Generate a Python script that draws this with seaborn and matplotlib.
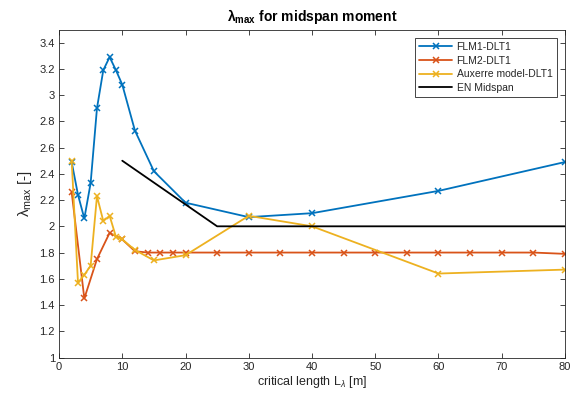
import matplotlib
matplotlib.use("Agg")
import matplotlib.pyplot as plt
import numpy as np
import pandas as pd
import seaborn as sns
from matplotlib.ticker import FuncFormatter, MultipleLocator

# Critical length L_lambda [m] and lambda_max for each model
L_flm1 = [2, 3, 4, 5, 6, 7, 8, 9, 10, 12, 15, 20, 30, 40, 60, 80]
lam_flm1 = [2.49, 2.24, 2.06, 2.33, 2.90, 3.19, 3.29, 3.19, 3.08, 2.73,
            2.42, 2.18, 2.07, 2.10, 2.27, 2.49]

L_flm2 = [2, 4, 6, 8, 10, 12, 14, 16, 18, 20, 25, 30, 35, 40, 45, 50,
          55, 60, 65, 70, 75, 80]
lam_flm2 = [2.26, 1.45, 1.75, 1.95, 1.90, 1.81, 1.80, 1.80, 1.80, 1.80,
            1.80, 1.80, 1.80, 1.80, 1.80, 1.80, 1.80, 1.80, 1.80, 1.80,
            1.80, 1.79]

L_aux = [2, 3, 4, 5, 6, 7, 8, 9, 10, 12, 15, 20, 30, 40, 60, 80]
lam_aux = [2.50, 1.57, 1.63, 1.70, 2.23, 2.04, 2.08, 1.92, 1.90, 1.82,
           1.74, 1.78, 2.08, 2.00, 1.64, 1.67]

L_en = [10, 25, 80]
lam_en = [2.50, 2.00, 2.00]

series_names = ["FLM1-DLT1", "FLM2-DLT1", "Auxerre model-DLT1", "EN Midspan"]
series_colors = ["#0072BD", "#D95319", "#EDB120", "#000000"]

sns.set_style("ticks")
plt.rcParams["font.family"] = ["Liberation Sans", "DejaVu Sans"]
plt.rcParams["mathtext.fontset"] = "custom"
plt.rcParams["mathtext.rm"] = "Liberation Sans"
plt.rcParams["mathtext.it"] = "Liberation Sans:italic"
plt.rcParams["mathtext.bf"] = "Liberation Sans:bold"

fig = plt.figure(figsize=(5.73, 3.99), dpi=100)
ax = fig.add_axes([0.103, 0.104, 0.883, 0.822])

frames = [
    pd.DataFrame({"L": L_flm1, "lam": lam_flm1}),
    pd.DataFrame({"L": L_flm2, "lam": lam_flm2}),
    pd.DataFrame({"L": L_aux, "lam": lam_aux}),
]
for df, name, col in zip(frames, series_names[:3], series_colors[:3]):
    sns.lineplot(data=df, x="L", y="lam", ax=ax, color=col, label=name,
                 marker="x", markersize=4, markeredgewidth=1.1,
                 markeredgecolor=col, linewidth=1.3, sort=False)

sns.lineplot(data=pd.DataFrame({"L": L_en, "lam": lam_en}), x="L", y="lam",
             ax=ax, color=series_colors[3], label=series_names[3],
             linewidth=1.3, sort=False)

ax.set_xlim(0, 80)
ax.set_ylim(1, 3.5)
ax.xaxis.set_major_locator(MultipleLocator(10))
ax.set_yticks(np.arange(1.0, 3.41, 0.2))
ax.yaxis.set_major_formatter(FuncFormatter(lambda v, p: f"{v:.1f}".rstrip("0").rstrip(".")))

grey = "#262626"
for s in ax.spines.values():
    s.set_visible(True)
    s.set_color(grey)
    s.set_linewidth(0.6)
ax.tick_params(direction="in", top=True, right=True, length=3.5, width=0.6,
               colors=grey, labelsize=8, pad=3)

ax.set_xlabel("critical length L$_{\\lambda}$ [m]", fontsize=9, color=grey, labelpad=2)
ax.set_ylabel("λ$_{\\mathrm{max}}$ [-]", fontsize=11, color=grey, labelpad=4)
ax.set_title("λ$_{\\mathbf{max}}$ for midspan moment", fontsize=10,
             fontweight="bold", color="#000000", pad=6)

leg = ax.legend(loc="upper right", fontsize=7.5, frameon=True, fancybox=False,
                framealpha=1, edgecolor=grey, borderaxespad=0.8,
                handlelength=3.2, handletextpad=0.4, borderpad=0.4,
                labelspacing=0.35)
leg.get_frame().set_linewidth(0.6)

fig.savefig("out.png", dpi=100)
